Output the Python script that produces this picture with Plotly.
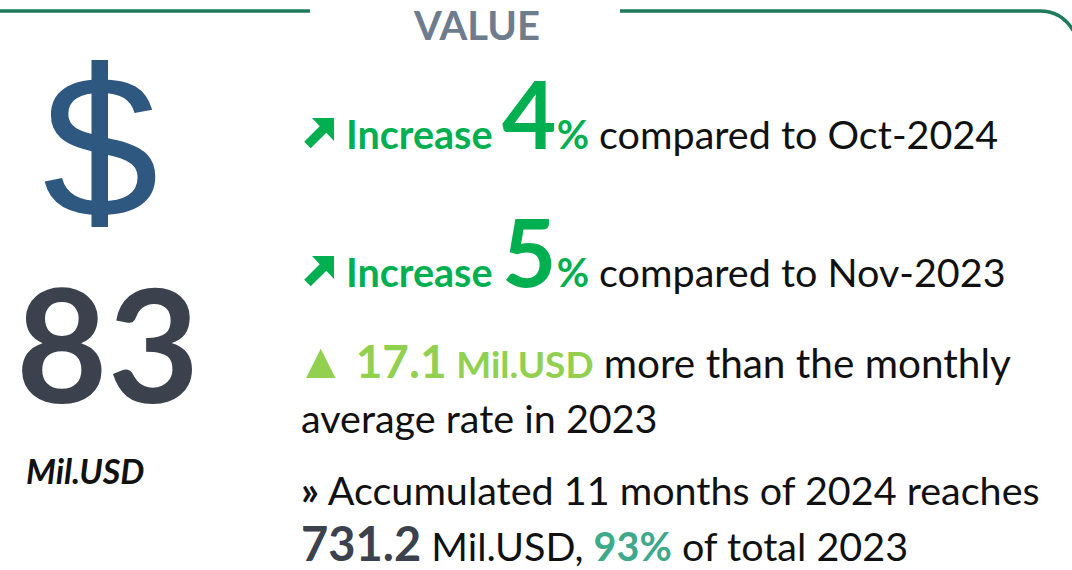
import plotly.graph_objects as go

# ---- data ----
title = "VALUE"
value_now = 83
unit = "Mil.USD"
pct_changes = [4, 5]
compare_periods = ["Oct-2024", "Nov-2023"]
diff_vs_avg = 17.1
avg_year = 2023
months_accum = 11
accum_year = 2024
accum_value = 731.2
accum_share = 93

# ---- styles ----
FONT = "Lato"
GREEN = "#00B050"
LGREEN = "#92D050"
TEAL = "#3FA98C"
DARK = "#3B424D"
BLUE = "#2E5880"
BORDER = "#1F7A5C"
GREY = "#6E7D8E"
BASE = 39.5

W, H = 1072, 570
fig = go.Figure()
fig.update_layout(
    width=W, height=H, margin=dict(l=0, r=0, t=0, b=0),
    paper_bgcolor="white", plot_bgcolor="white",
    xaxis=dict(range=[0, W], visible=False, fixedrange=True),
    yaxis=dict(range=[H, 0], visible=False, fixedrange=True),
    showlegend=False,
    font=dict(family=FONT, color="#111111", size=BASE),
)

# border
fig.add_shape(type="path", path="M -5 11 L 310 11", line=dict(color=BORDER, width=3.5))
fig.add_shape(type="path", path="M 620 11 L 1040 11 Q 1066 11 1078 40",
              line=dict(color=BORDER, width=3.5))

def ann(x, y, text, size=BASE, color="#111111", xanchor="left", yanchor="middle",
        family=FONT, yshift=0):
    fig.add_annotation(x=x, y=y, xref="x", yref="y", text=text, showarrow=False,
                       xanchor=xanchor, yanchor=yanchor, borderpad=0, yshift=yshift,
                       font=dict(family=family, size=size, color=color))

ann(476, 0, f"<b>{title}</b>", size=40, color=GREY, xanchor="center", yanchor="top")

# dollar sign: S glyph plus vertical stroke
ann(100, 146, "S", size=192, color=BLUE, xanchor="center", family="Liberation Sans")
fig.add_shape(type="rect", x0=91.5, x1=108, y0=60, y1=227, fillcolor=BLUE, line=dict(width=0))

# headline value
ann(107, 342, f"<b>{value_now}</b>", size=158, color=DARK, xanchor="center")
ann(25, 470, f"<b><i>{unit}</i></b>", size=34, color="#111111")

# up-right arrow icon (decorative)
def arrow(dy):
    A = (312, 118); T = (334, 118); B = (334, 141)
    M = ((A[0] + B[0]) / 2, (A[1] + B[1]) / 2)
    s = 0.7071
    L, hw = 22, 4.6
    E = (M[0] - L * s, M[1] + L * s)
    p = (hw * s, hw * s)
    pts = [A, T, B, (M[0] + p[0], M[1] + p[1]), (E[0] + p[0], E[1] + p[1]),
           (E[0] - p[0], E[1] - p[1]), (M[0] - p[0], M[1] - p[1])]
    path = "M " + " L ".join(f"{x:.1f} {y + dy:.1f}" for x, y in pts) + " Z"
    fig.add_shape(type="path", path=path, fillcolor=GREEN, line=dict(width=0))

row_y = [112, 250]
for i, (pc, per) in enumerate(zip(pct_changes, compare_periods)):
    arrow(138 * i)
    txt = (f"<span style='color:{GREEN}'><b>Increase <span style='font-size:94px'>{pc}</span>%</b></span>"
           f" compared to {per}")
    ann(345, row_y[i], txt)

# above average
txt3 = (f"<span style='color:{LGREEN}'><span style='font-size:50px'>▲</span> <b><span style='font-size:46px'>{diff_vs_avg}</span> "
        f"<span style='font-size:37px'>{unit}</span></b></span> <span style='font-size:40.5px'>more than the monthly</span>")
ann(295, 359, txt3)
ann(300, 417, f"average rate in {avg_year}")

# accumulated
ann(300, 489, f"<b>»</b> Accumulated {months_accum} months of {accum_year} reaches")
txt5 = (f"<span style='color:{DARK}'><b><span style='font-size:47px'>{accum_value}</span></b></span>"
        f" {unit}, <span style='color:{TEAL}'><b>{accum_share}%</b></span> of total {avg_year}")
ann(300, 569, txt5, yanchor="bottom", yshift=-3)

fig.write_html("out.html", config={"displayModeBar": False},
               post_script="document.body.style.margin='0';document.body.style.overflow='hidden';")
